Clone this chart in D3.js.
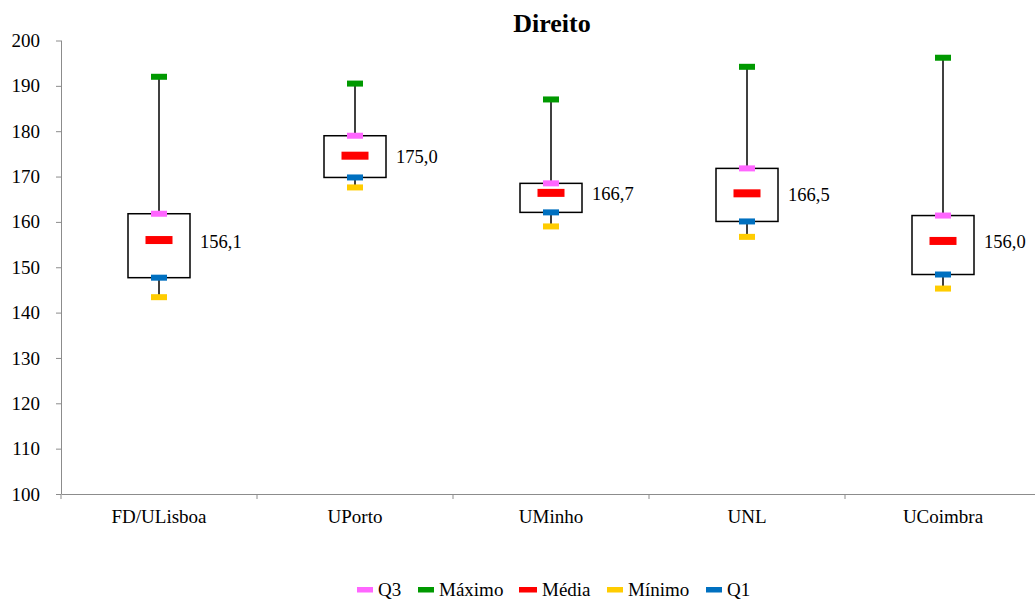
<!DOCTYPE html>
<html>
<head>
<meta charset="utf-8">
<script src="https://cdn.jsdelivr.net/npm/d3@7"></script>
<style>
  html, body { margin: 0; padding: 0; background: #fff; }
  svg { display: block; }
  text { font-family: "Liberation Serif", "Times New Roman", "DejaVu Serif", serif; }
</style>
</head>
<body>
<svg id="chart" width="1035" height="601"></svg>
<script>
const categories = ["FD/ULisboa", "UPorto", "UMinho", "UNL", "UCoimbra"];
const maximo = [192.0, 190.5, 187.0, 194.2, 196.2];
const q3     = [161.8, 179.0, 168.5, 171.8, 161.4];
const media  = [156.0, 174.6, 166.4, 166.3, 155.8];
const mediaLabels = ["156,1", "175,0", "166,7", "166,5", "156,0"];
const q1     = [147.7, 169.8, 162.1, 160.1, 148.4];
const minimo = [143.4, 167.6, 159.0, 156.7, 145.3];
const yTicks = [100, 110, 120, 130, 140, 150, 160, 170, 180, 190, 200];
const legendNames = ["Q3", "Máximo", "Média", "Mínimo", "Q1"];
const legendColors = ["#ff66ff", "#009900", "#ff0000", "#ffcc00", "#0070c0"];
const chartTitle = "Direito";

const FONT = "'Liberation Serif', 'Times New Roman', 'DejaVu Serif', serif";
const svg = d3.select("#chart");
const pLeft = 61, pRight = 1041, pTop = 40.5, pBottom = 494;

const x = d3.scaleBand().domain(categories).range([pLeft, pRight]).padding(0);
const y = d3.scaleLinear().domain([100, 200]).range([pBottom, pTop]);

// Title
svg.append("text").attr("x", 552).attr("y", 32).attr("text-anchor", "middle")
  .attr("font-family", FONT).attr("font-size", 26).attr("font-weight", "bold").text(chartTitle);

// Y axis
const yAxis = svg.append("g").attr("transform", `translate(${pLeft},0)`)
  .call(d3.axisLeft(y).tickValues(yTicks).tickSize(5).tickPadding(16).tickFormat(d3.format("d")));
yAxis.attr("font-family", FONT);
yAxis.select(".domain").attr("stroke", "#8c8c8c").attr("d", `M0.5,${pTop}V${pBottom}`);
yAxis.selectAll(".tick line").attr("stroke", "#8c8c8c");
yAxis.selectAll(".tick text").attr("font-size", 19).attr("fill", "#000").attr("font-family", FONT);

// X axis
const xAxis = svg.append("g").attr("transform", `translate(0,${pBottom})`)
  .call(d3.axisBottom(x).tickSize(0).tickPadding(16));
xAxis.attr("font-family", FONT);
xAxis.select(".domain").attr("stroke", "#8c8c8c");
xAxis.selectAll(".tick text").attr("font-size", 19).attr("fill", "#000").attr("font-family", FONT);
svg.append("g").selectAll("line").data(d3.range(categories.length + 1)).join("line")
  .attr("x1", i => pLeft + i * x.bandwidth()).attr("x2", i => pLeft + i * x.bandwidth())
  .attr("y1", pBottom).attr("y2", pBottom + 5).attr("stroke", "#8c8c8c");

const cx = i => x(categories[i]) + x.bandwidth() / 2;
const boxW = 62;
const idx = d3.range(categories.length);

// Whiskers
const g = svg.append("g");
g.selectAll(".wh-up").data(idx).join("line")
  .attr("x1", cx).attr("x2", cx).attr("y1", i => y(maximo[i])).attr("y2", i => y(q3[i]))
  .attr("stroke", "#000").attr("stroke-width", 1.5);
g.selectAll(".wh-dn").data(idx).join("line")
  .attr("x1", cx).attr("x2", cx).attr("y1", i => y(q1[i])).attr("y2", i => y(minimo[i]))
  .attr("stroke", "#000").attr("stroke-width", 1.5);

// Boxes
g.selectAll(".box").data(idx).join("rect")
  .attr("x", i => cx(i) - boxW / 2).attr("width", boxW)
  .attr("y", i => y(q3[i])).attr("height", i => y(q1[i]) - y(q3[i]))
  .attr("fill", "#fff").attr("stroke", "#000").attr("stroke-width", 1.5);

// Markers
const series = [q3, maximo, media, minimo, q1];
series.forEach((s, k) => {
  const w = k === 2 ? 27 : 16, h = k === 2 ? 8 : 6;
  g.selectAll(".m" + k).data(idx).join("rect")
    .attr("x", i => cx(i) - w / 2).attr("y", i => y(s[i]) - h / 2)
    .attr("width", w).attr("height", h).attr("fill", legendColors[k]);
});

// Mean labels
g.selectAll(".lbl").data(idx).join("text")
  .attr("x", i => cx(i) + boxW / 2 + 10).attr("y", i => y(media[i]) + 7.5)
  .attr("font-family", FONT).attr("font-size", 18.5).text(i => mediaLabels[i]);

// Legend
const legX = [357, 418, 519, 607, 706];
const leg = svg.append("g");
legendNames.forEach((n, k) => {
  const w = k === 2 ? 18 : 16;
  leg.append("rect").attr("x", legX[k]).attr("y", 587).attr("width", w).attr("height", 5.5)
    .attr("fill", legendColors[k]);
  leg.append("text").attr("x", legX[k] + w + 5).attr("y", 596)
    .attr("font-family", FONT).attr("font-size", 19).text(n);
});
</script>
</body>
</html>
